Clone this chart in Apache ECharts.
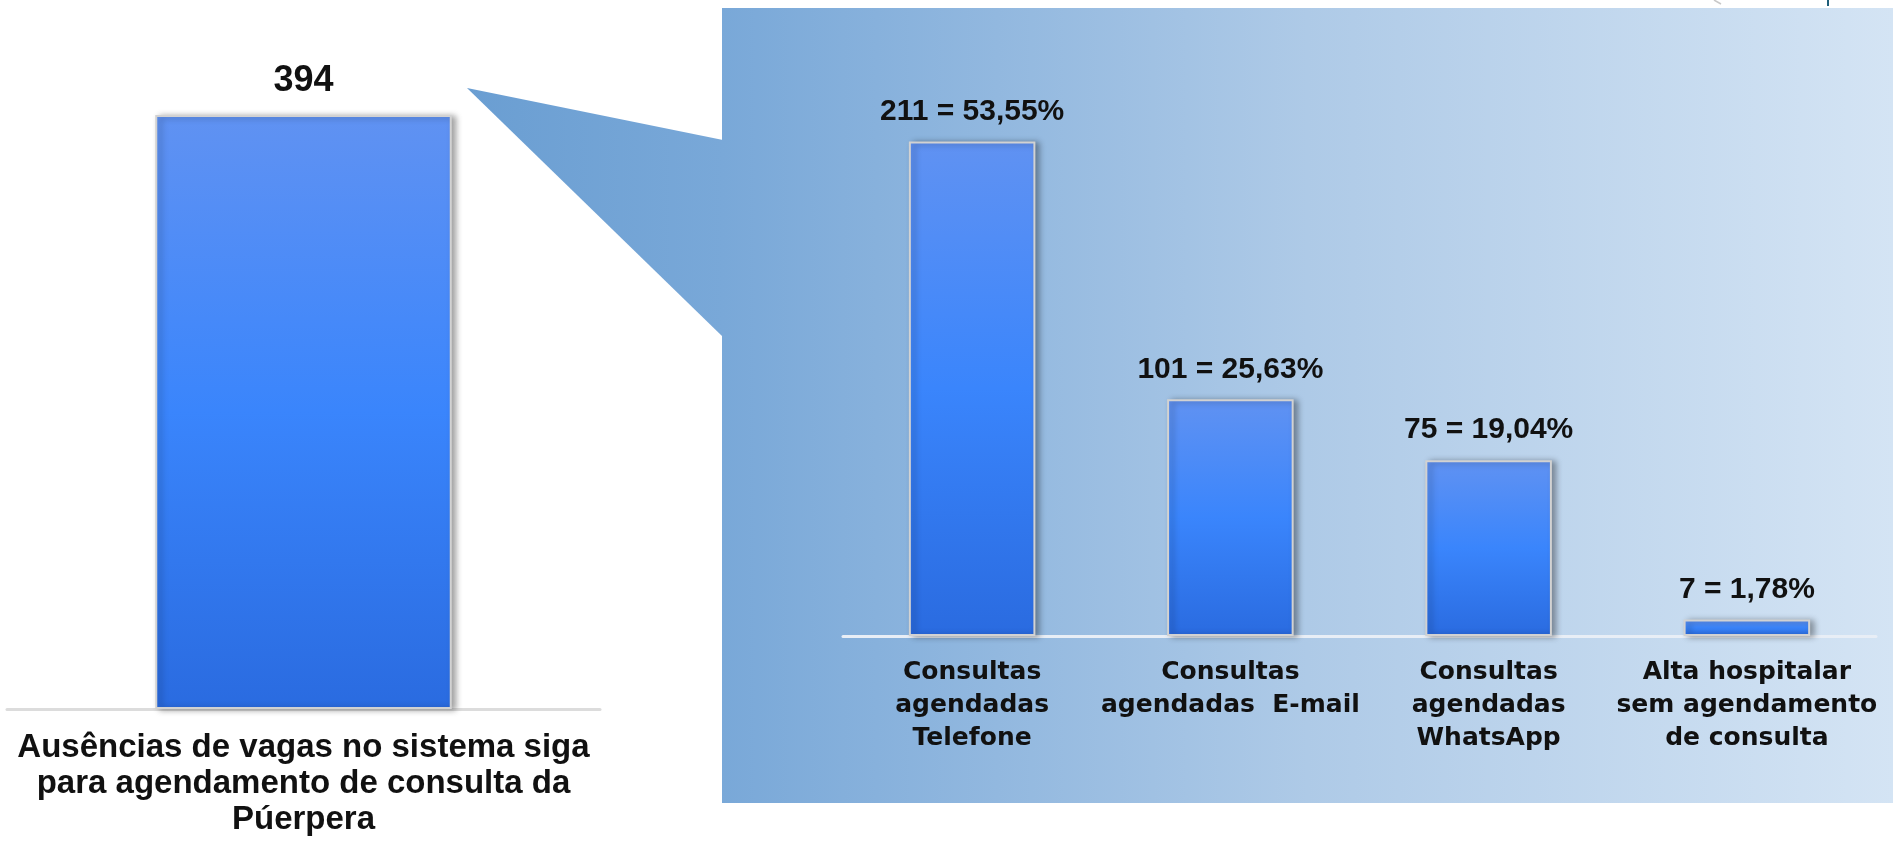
<!DOCTYPE html>
<html>
<head>
<meta charset="utf-8">
<script src="https://cdn.jsdelivr.net/npm/echarts@6/dist/echarts.min.js"></script>
<style>
  html, body { margin: 0; padding: 0; background: #ffffff; }
  #chart { width: 1893px; height: 843px; }
</style>
</head>
<body>
<div id="chart"></div>
<script>
// ---- data ----
const leftCategories = ['Ausências de vagas no sistema siga\npara agendamento de consulta da\nPúerpera'];
const leftValues = [394];

const rightCategories = [
  'Consultas\nagendadas\nTelefone',
  'Consultas\nagendadas  E-mail',
  'Consultas\nagendadas\nWhatsApp',
  'Alta hospitalar\nsem agendamento\nde consulta'
];
const rightValues = [211, 101, 75, 7];
const rightPercents = ['53,55%', '25,63%', '19,04%', '1,78%'];

// ---- styles ----
const ARIAL = "'Liberation Sans', Arial, sans-serif";
const DEJAVU = "'DejaVu Sans', 'Liberation Sans', sans-serif";

const barGradient = {
  type: 'linear', x: 0, y: 0, x2: 0, y2: 1,
  colorStops: [
    { offset: 0, color: '#6092f2' },
    { offset: 0.5, color: '#3a85fc' },
    { offset: 1, color: '#2a6be0' }
  ]
};
const barItemStyle = {
  color: barGradient,
  borderColor: '#d2d2d2',
  borderWidth: 2,
  shadowColor: 'rgba(0,0,0,0.35)',
  shadowBlur: 6,
  shadowOffsetX: 4,
  shadowOffsetY: 1
};

const chart = echarts.init(document.getElementById('chart'));

chart.setOption({
  backgroundColor: '#ffffff',
  animation: false,
  graphic: [
    {
      type: 'rect',
      z: -1,
      silent: true,
      shape: { x: 722, y: 8, width: 1171, height: 795 },
      style: {
        fill: {
          type: 'linear', x: 0, y: 0, x2: 1, y2: 0,
          colorStops: [
            { offset: 0, color: '#79a8d8' },
            { offset: 0.5, color: '#aecae7' },
            { offset: 1, color: '#d4e4f4' }
          ]
        }
      }
    },
    {
      type: 'polygon',
      z: -1,
      silent: true,
      shape: { points: [[467, 88], [723, 140], [723, 337]] },
      style: {
        fill: {
          type: 'linear', x: 0, y: 0, x2: 1, y2: 0,
          colorStops: [
            { offset: 0, color: '#6a9ed2' },
            { offset: 1, color: '#79a8d8' }
          ]
        }
      }
    },
    {
      type: 'line',
      z: -1,
      silent: true,
      shape: { x1: 1828, y1: 0, x2: 1828, y2: 6 },
      style: { stroke: '#1f5f7a', lineWidth: 2 }
    },
    {
      type: 'line',
      z: -1,
      silent: true,
      shape: { x1: 1714, y1: 0, x2: 1721, y2: 4 },
      style: { stroke: '#c8c8c8', lineWidth: 1.5 }
    }
  ],
  grid: [
    { left: 7, right: 1293, top: 115, bottom: 134 },
    { left: 843, right: 17, top: 50, bottom: 207 }
  ],
  xAxis: [
    {
      type: 'category',
      gridIndex: 0,
      data: leftCategories,
      axisLine: { show: true, lineStyle: { color: '#dcdcdc', width: 3 } },
      axisTick: { show: false },
      axisLabel: {
        interval: 0,
        margin: 21,
        color: '#111111',
        fontFamily: ARIAL,
        fontWeight: 'bold',
        fontSize: 33,
        lineHeight: 36,
        align: 'center'
      }
    },
    {
      type: 'category',
      gridIndex: 1,
      data: rightCategories,
      axisLine: { show: true, lineStyle: { color: '#e8eef6', width: 3 } },
      axisTick: { show: false },
      axisLabel: {
        interval: 0,
        margin: 20,
        color: '#111111',
        fontFamily: DEJAVU,
        fontWeight: 'bold',
        fontSize: 25,
        lineHeight: 33,
        align: 'center'
      }
    }
  ],
  yAxis: [
    { type: 'value', gridIndex: 0, min: 0, max: 394, show: false },
    { type: 'value', gridIndex: 1, min: 0, max: 250, show: false }
  ],
  series: [
    {
      type: 'bar',
      xAxisIndex: 0,
      yAxisIndex: 0,
      data: leftValues,
      barWidth: '50%',
      itemStyle: barItemStyle,
      label: {
        show: true,
        position: 'top',
        distance: 16,
        color: '#111111',
        fontFamily: ARIAL,
        fontWeight: 'bold',
        fontSize: 36
      }
    },
    {
      type: 'bar',
      xAxisIndex: 1,
      yAxisIndex: 1,
      data: rightValues,
      barWidth: '49%',
      itemStyle: barItemStyle,
      label: {
        show: true,
        position: 'top',
        distance: 15,
        color: '#111111',
        fontFamily: ARIAL,
        fontWeight: 'bold',
        fontSize: 30,
        formatter: function (p) {
          return p.value + ' = ' + rightPercents[p.dataIndex];
        }
      }
    }
  ]
});
</script>
</body>
</html>
